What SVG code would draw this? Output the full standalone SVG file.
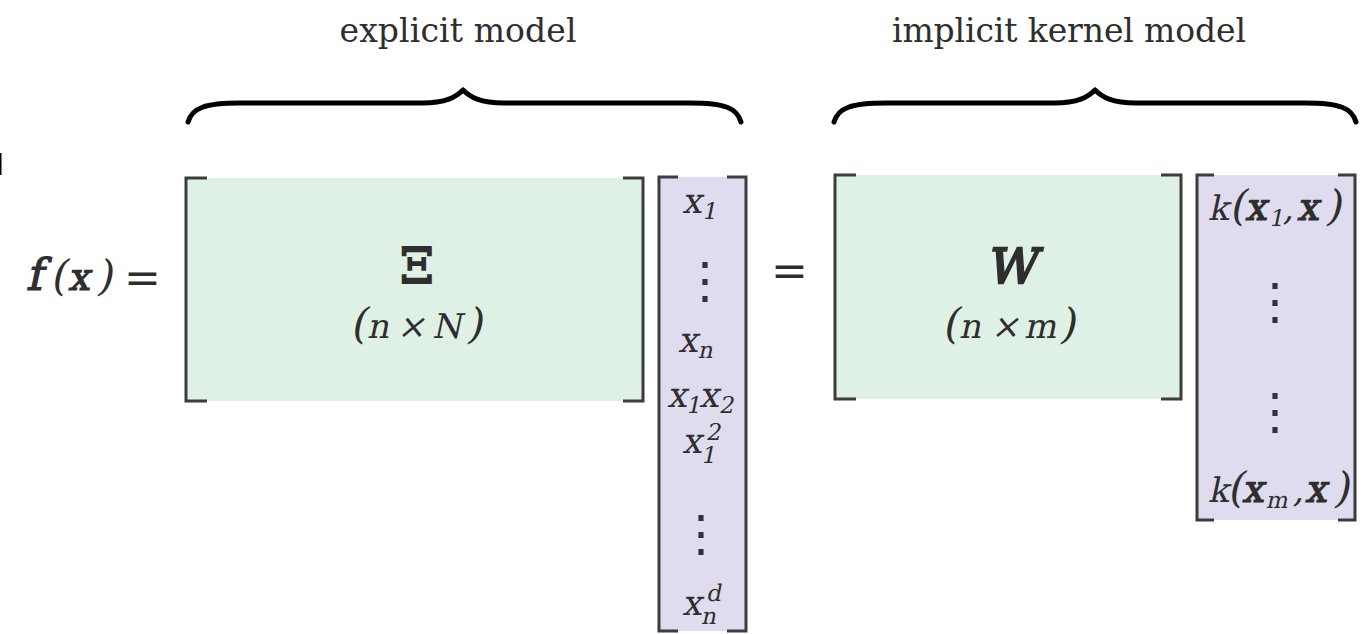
<svg xmlns="http://www.w3.org/2000/svg" width="1365" height="634" viewBox="0 0 1365 634">
<style>
text{fill:#2e2e2e;font-family:"DejaVu Serif",serif}
.lbl{font-size:33px;text-anchor:middle}
.m{font-size:34px}
.c{font-size:35px}
.p{font-size:42px}
.bd{stroke:#2e2e2e;stroke-width:1.2}
.sub{font-size:23px}
.vd{font-family:"Noto Sans CJK SC",sans-serif;font-size:50px;text-anchor:middle;fill:#333}
.eq{font-size:44px}
.brk{fill:none;stroke:#3c3c3c;stroke-width:3}
.brace{fill:none;stroke:#000;stroke-width:5;stroke-linecap:round;stroke-linejoin:round}
.green{fill:#dff0e5}
.lav{fill:#dedcee}
</style>
<rect x="0" y="153" width="1.5" height="22" fill="#000"/>
<g id="labels">
<text class="lbl" x="458" y="42" textLength="237">explicit model</text>
<text class="lbl" x="1069" y="42" textLength="354">implicit kernel model</text>
</g>
<g id="braces">
<path class="brace" d="M188,122 C192,108 205,103 240,103 L422,103 C446,103 456,97 463,90 C470,97 480,103 504,103 L690,103 C725,103 737,108 741,122"/>
<path class="brace" d="M834,122 C838,108 851,103 886,103 L1054,103 C1078,103 1088,97 1095,90 C1102,97 1112,103 1136,103 L1305,103 C1340,103 1352,108 1356,122"/>
</g>
<g id="lhs">
<text class="m" transform="translate(22,290) skewX(-12)"><tspan class="bd" x="4" font-size="44">f</tspan><tspan class="p" x="28" font-size="46">(</tspan><tspan class="bd" x="46" font-size="38">x</tspan><tspan class="p" x="74" font-size="46">)</tspan></text>
<text class="eq" x="124" y="293">=</text>
</g>
<g id="matrix-xi">
<rect class="green" x="186" y="178" width="457" height="223"/>
<path class="brk" d="M207,178 H186 V401 H207"/>
<path class="brk" d="M623,178 H643 V401 H623"/>
<text class="bd" x="417" y="283" font-size="48" style="stroke-width:1.8" text-anchor="middle">Ξ</text>
<text class="m" transform="translate(350,338) skewX(-12)"><tspan class="p" x="0">(</tspan><tspan x="17">n</tspan><tspan x="47">×</tspan><tspan x="82">N</tspan><tspan class="p" x="116">)</tspan></text>
</g>
<g id="vector-x">
<rect class="lav" x="659" y="177" width="87" height="454"/>
<path class="brk" d="M678,177 H659 V631 H678"/>
<path class="brk" d="M727,177 H746 V631 H727"/>
<text class="c" transform="translate(682,213) skewX(-12)">x<tspan class="sub" x="21" y="6">1</tspan></text>
<text class="vd" x="705" y="297">⋮</text>
<text class="c" transform="translate(678,352) skewX(-12)">x<tspan class="sub" x="21" y="6">n</tspan></text>
<text class="c" transform="translate(667,407) skewX(-12)">x<tspan class="sub" x="20" y="6">1</tspan><tspan x="32" y="0">x</tspan><tspan class="sub" x="53" y="6">2</tspan></text>
<text class="c" transform="translate(682,453) skewX(-12)">x<tspan class="sub" x="21" y="-13">2</tspan><tspan class="sub" x="21" y="10">1</tspan></text>
<text class="vd" x="701" y="550">⋮</text>
<text class="c" transform="translate(682,615) skewX(-12)">x<tspan class="sub" x="21" y="-14">d</tspan><tspan class="sub" x="21" y="9">n</tspan></text>
</g>
<text class="eq" x="771" y="286">=</text>
<g id="matrix-w">
<rect class="green" x="835" y="175" width="346" height="224"/>
<path class="brk" d="M856,175 H835 V399 H856"/>
<path class="brk" d="M1161,175 H1181 V399 H1161"/>
<text class="bd" font-size="48" style="stroke-width:2.4" text-anchor="middle" transform="translate(1011,283) skewX(-12)">W</text>
<text class="m" transform="translate(942,338) skewX(-12)"><tspan class="p" x="0">(</tspan><tspan x="17">n</tspan><tspan x="49">×</tspan><tspan x="82">m</tspan><tspan class="p" x="117">)</tspan></text>
</g>
<g id="vector-k">
<rect class="lav" x="1197" y="175" width="158" height="345"/>
<path class="brk" d="M1214,175 H1197 V520 H1214"/>
<path class="brk" d="M1338,175 H1355 V520 H1338"/>
<text class="m" transform="translate(1208,220) skewX(-12)">k<tspan class="p" x="21" font-size="40">(</tspan><tspan class="bd" x="37" font-size="38">x</tspan><tspan class="sub" x="62" y="6">1</tspan><tspan x="75" y="0">,</tspan><tspan class="bd" x="89" font-size="38">x</tspan><tspan class="p" x="117" font-size="40">)</tspan></text>
<text class="vd" x="1275" y="318">⋮</text>
<text class="vd" x="1275" y="428">⋮</text>
<text class="m" transform="translate(1208,502) skewX(-12)">k<tspan class="p" x="19" font-size="40">(</tspan><tspan class="bd" x="34" font-size="38">x</tspan><tspan class="sub" x="59" y="6">m</tspan><tspan x="85" y="0">,</tspan><tspan class="bd" x="97" font-size="38">x</tspan><tspan class="p" x="125" font-size="40">)</tspan></text>
</g>
</svg>
